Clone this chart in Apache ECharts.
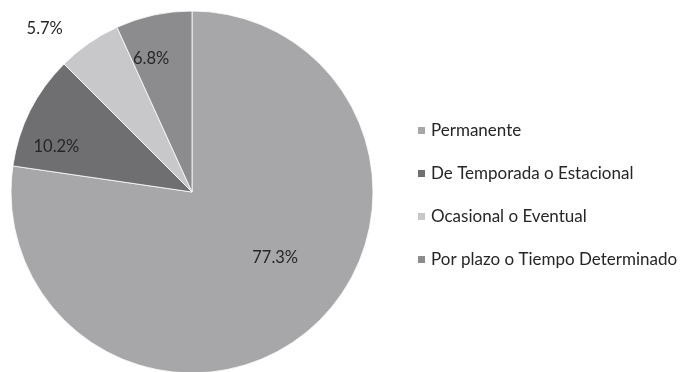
<!DOCTYPE html>
<html>
<head>
<meta charset="utf-8">
<script src="https://cdn.jsdelivr.net/npm/echarts@6/dist/echarts.min.js"></script>
<style>
  html, body { margin: 0; padding: 0; background: #fff; }
  #chart { width: 684px; height: 372px; }
</style>
</head>
<body>
<div id="chart"></div>
<script>
// Tipo de contrato
const categories = [
  'Permanente',
  'De Temporada o Estacional',
  'Ocasional o Eventual',
  'Por plazo o Tiempo Determinado'
];
const values = [77.3, 10.2, 5.7, 6.8];

// Slice shades and label nudges (from the default inside position)
const sliceColors = ['#a7a7a9', '#6f6f71', '#c8c8ca', '#8c8c8e'];
const labelNudges = [[22, -5], [-52, -3], [-94, -86], [-21, -42]];

const chart = echarts.init(document.getElementById('chart'), null, { renderer: 'canvas' });

chart.setOption({
  animation: false,
  backgroundColor: '#ffffff',
  textStyle: { fontFamily: 'Lato, "Open Sans", sans-serif' },
  legend: {
    orient: 'vertical',
    left: 411,
    top: 117,
    itemWidth: 9,
    itemHeight: 9,
    itemGap: 26,
    icon: 'rect',
    selectedMode: false,
    textStyle: { fontSize: 17, lineHeight: 17, color: '#262626' },
    data: categories
  },
  series: [{
    type: 'pie',
    center: [192, 192],
    radius: [0, 181],
    startAngle: 90,
    clockwise: true,
    avoidLabelOverlap: false,
    itemStyle: { borderColor: '#ffffff', borderWidth: 0.8 },
    label: {
      show: true,
      position: 'inside',
      fontSize: 16.5,
      color: '#262626',
      formatter: (p) => p.value.toFixed(1) + '%'
    },
    labelLine: { show: false },
    emphasis: { disabled: true },
    data: categories.map((name, i) => ({
      name,
      value: values[i],
      itemStyle: { color: sliceColors[i] },
      label: { offset: labelNudges[i] }
    }))
  }]
});
</script>
</body>
</html>
